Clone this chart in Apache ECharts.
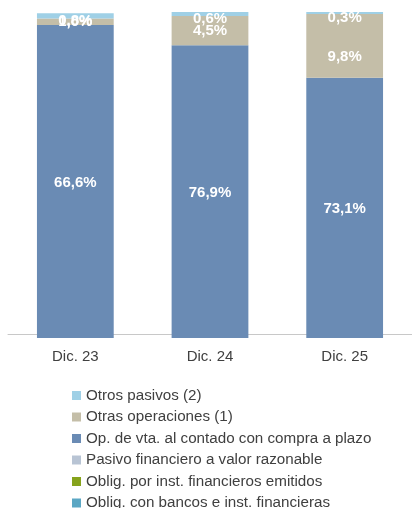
<!DOCTYPE html>
<html>
<head>
<meta charset="utf-8">
<script src="https://cdn.jsdelivr.net/npm/echarts@6/dist/echarts.min.js"></script>
<style>
  html, body { margin: 0; padding: 0; background: #fff; }
  #Chart1 { width: 412px; height: 508px; }
</style>
</head>
<body>
<div id="Chart1"></div>
<script>
const myChart = echarts.init(document.getElementById("Chart1"));

// categories and series values (% of total)
const categories = ["Dic. 23", "Dic. 24", "Dic. 25"];
const obligBancos = [20.1, 11.2, 10.4];
const obligInst = [8.3, 5.5, 5.0];
const pasivoRazonable = [3.0, 1.3, 1.4];
const opVentaContado = [66.6, 76.9, 73.1];
const otrasOperaciones = [1.0, 4.5, 9.8];
const otrosPasivos = [0.8, 0.6, 0.3];

// label nudges for the "Otras operaciones" bars, as in the source chart
const otrasLabelOffsets = [[0, 0], [0, 0], [0, 11]];

const fmt = (p) => p.value.toFixed(1).replace(".", ",") + "%";

const labelStyle = {
  show: true,
  position: "inside",
  color: "#fff",
  fontFamily: "Liberation Sans",
  fontSize: 15,
  fontWeight: "bold",
  formatter: fmt,
};

function bar(name, data, color, label) {
  return {
    name: name,
    type: "bar",
    stack: "total",
    barWidth: "57%",
    data: data,
    itemStyle: { color: color },
    label: label || { show: false },
    emphasis: { disabled: true },
  };
}

const option = {
  animation: false,
  grid: { left: 8, right: -6, top: 12, bottom: 170 },
  legend: {
    orient: "vertical",
    left: 72,
    top: 388,
    height: 140,
    padding: 0,
    itemWidth: 9,
    itemHeight: 9,
    itemGap: 6.5,
    icon: "rect",
    textStyle: { color: "#404040", fontFamily: "Liberation Sans", fontSize: 15.2, lineHeight: 15 },
    data: [
      "Otros pasivos (2)",
      "Otras operaciones (1)",
      "Op. de vta. al contado con compra a plazo",
      "Pasivo financiero a valor razonable",
      "Oblig. por inst. financieros emitidos",
      "Oblig. con bancos e inst. financieras",
    ],
  },
  xAxis: {
    type: "category",
    data: categories,
    offset: -4,
    axisLine: { lineStyle: { color: "#c8c8c8", width: 1 } },
    axisTick: { show: false },
    axisLabel: { color: "#404040", fontFamily: "Liberation Sans", fontSize: 15, margin: 15 },
  },
  yAxis: {
    type: "value",
    min: 50,
    max: 100,
    show: false,
    splitLine: { show: false },
  },
  series: [
    bar("Oblig. con bancos e inst. financieras", obligBancos, "#5ba7c4"),
    bar("Oblig. por inst. financieros emitidos", obligInst, "#86a31c"),
    bar("Pasivo financiero a valor razonable", pasivoRazonable, "#b8c4d4"),
    bar("Op. de vta. al contado con compra a plazo", opVentaContado, "#6a8bb4", Object.assign({}, labelStyle, { offset: [0, 1] })),
    bar("Otras operaciones (1)", otrasOperaciones.map((v, i) => ({ value: v, label: { offset: otrasLabelOffsets[i] } })), "#c4bea8", labelStyle),
    bar("Otros pasivos (2)", otrosPasivos, "#9fd0e6", Object.assign({}, labelStyle, { offset: [0, 5] })),
  ],
};

myChart.setOption(option);
</script>
</body>
</html>
